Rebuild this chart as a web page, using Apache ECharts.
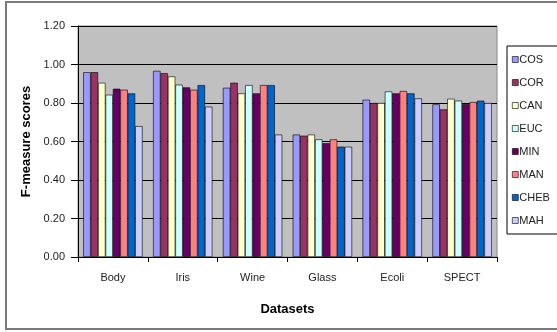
<!DOCTYPE html>
<html>
<head>
<meta charset="utf-8">
<script src="https://cdn.jsdelivr.net/npm/echarts@6/dist/echarts.min.js"></script>
<style>
html,body{margin:0;padding:0;background:#fff;}
#c{width:557px;height:332px;}
</style>
</head>
<body>
<div id="c"></div>
<script>
var categories = ['Body', 'Iris', 'Wine', 'Glass', 'Ecoli', 'SPECT'];
var seriesNames = ['COS', 'COR', 'CAN', 'EUC', 'MIN', 'MAN', 'CHEB', 'MAH'];
var COS  = [0.96, 0.967, 0.879, 0.636, 0.817, 0.793];
var COR  = [0.96, 0.955, 0.905, 0.630, 0.800, 0.767];
var CAN  = [0.905, 0.938, 0.850, 0.636, 0.800, 0.822];
var EUC  = [0.843, 0.895, 0.893, 0.611, 0.860, 0.812];
var MIN  = [0.874, 0.881, 0.850, 0.591, 0.850, 0.794];
var MAN  = [0.869, 0.869, 0.893, 0.611, 0.862, 0.805];
var CHEB = [0.850, 0.893, 0.893, 0.573, 0.850, 0.812];
var MAH  = [0.680, 0.781, 0.636, 0.573, 0.824, 0.800];
var yTicks = ['0.00', '0.20', '0.40', '0.60', '0.80', '1.00', '1.20'];

var values = [COS, COR, CAN, EUC, MIN, MAN, CHEB, MAH];
var colors = ['#9999FF', '#993366', '#FFFFCC', '#CCFFFF', '#660066', '#FF8080', '#0066CC', '#CCCCFF'];

var font = 'Liberation Sans, Arial, sans-serif';
var chart = echarts.init(document.getElementById('c'), null, {renderer: 'canvas'});
var series = seriesNames.map(function (n, i) {
  return {
    name: n,
    type: 'bar',
    data: values[i],
    barGap: '0%',
    barCategoryGap: '15%',
    itemStyle: {color: colors[i], borderColor: '#000', borderWidth: 0.6},
    emphasis: {disabled: true}
  };
});

chart.setOption({
  animation: false,
  textStyle: {fontFamily: font},
  graphic: [{
    type: 'rect',
    shape: {x: 6, y: 2, width: 560, height: 327},
    style: {fill: 'none', stroke: '#7a7a7a', lineWidth: 2},
    z: -10
  }],
  grid: {
    left: 78, right: 60, top: 26, bottom: 75,
    show: true, backgroundColor: '#C0C0C0', borderColor: '#888', borderWidth: 1
  },
  legend: {
    orient: 'vertical',
    left: 507, top: 46,
    itemWidth: 6, itemHeight: 6, itemGap: 10,
    icon: 'rect',
    backgroundColor: '#fff',
    borderColor: '#000', borderWidth: 1,
    padding: [7, 20, 7, 5],
    itemStyle: {borderColor: '#000', borderWidth: 0.6},
    textStyle: {fontFamily: font, fontSize: 11, color: '#222', padding: [0, 0, 0, -4], lineHeight: 13, height: 13},
    data: seriesNames
  },
  xAxis: {
    type: 'category',
    data: categories,
    name: 'Datasets',
    nameLocation: 'middle',
    nameGap: 46,
    nameTextStyle: {fontFamily: font, fontSize: 13, fontWeight: 'bold', color: '#000'},
    axisLine: {lineStyle: {color: '#000', width: 1}},
    axisTick: {show: true, alignWithLabel: false, length: 5, lineStyle: {color: '#000'}},
    axisLabel: {fontFamily: font, fontSize: 11, color: '#222', margin: 15}
  },
  yAxis: {
    type: 'value',
    min: 0, max: 1.2, interval: 0.2,
    name: 'F-measure scores',
    nameLocation: 'middle',
    nameGap: 41,
    nameTextStyle: {fontFamily: font, fontSize: 13, fontWeight: 'bold', color: '#000'},
    axisLine: {show: true, lineStyle: {color: '#000', width: 1}},
    axisTick: {show: true, length: 7, lineStyle: {color: '#000'}},
    axisLabel: {
      fontFamily: font, fontSize: 11, color: '#222', margin: 13,
      formatter: function (v) { return yTicks[Math.round(v / 0.2)]; }
    },
    splitLine: {show: true, lineStyle: {color: '#000', width: 1}}
  },
  series: series
});
</script>
</body>
</html>
